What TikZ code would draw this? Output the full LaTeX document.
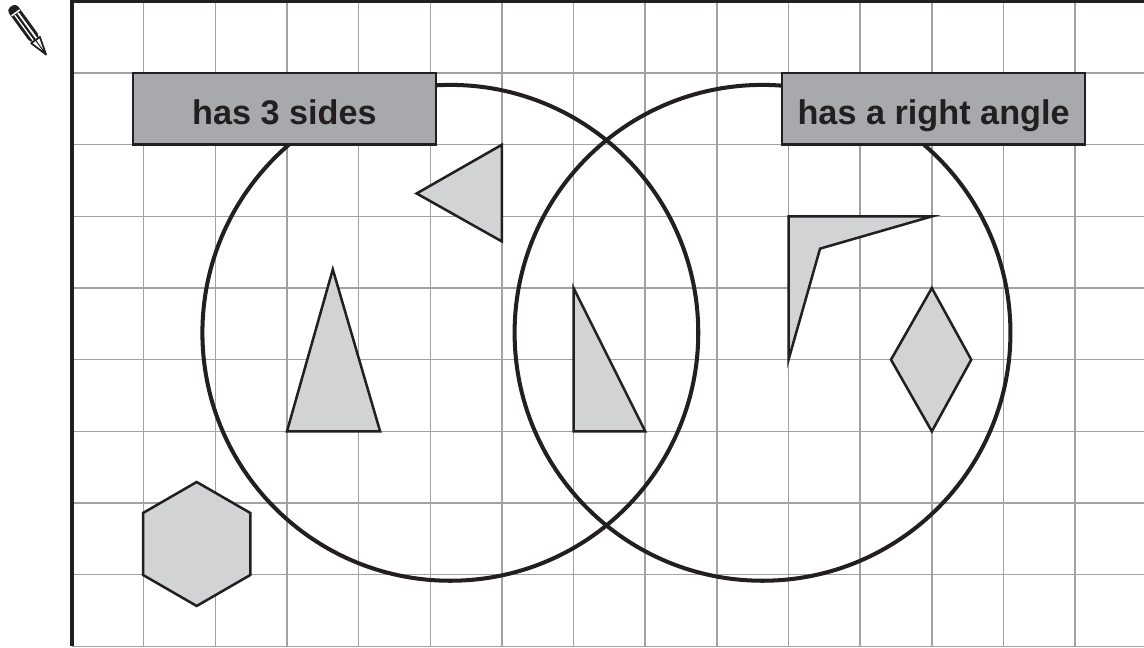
\documentclass[tikz,border=0pt]{standalone}
\usepackage{fontspec}
\setmainfont{Liberation Sans}
\definecolor{ink}{HTML}{231F20}
\definecolor{gridgray}{HTML}{A0A2A5}
\definecolor{boxgray}{HTML}{A7A9AC}
\definecolor{shapegray}{HTML}{D1D3D4}
\tikzset{
  gridline/.style={draw=gridgray, line width=0.6pt},
  frameline/.style={draw=ink, line width=1.5pt},
  setcircle/.style={draw=ink, line width=1.6pt},
  shapefill/.style={draw=ink, fill=shapegray, line width=1pt, line join=miter},
  labelbox/.style={draw=ink, fill=boxgray, line width=1pt, minimum width=4.23cm, minimum height=1cm,
    inner sep=0pt, text height=0.43cm, text depth=0pt,
    font=\fontsize{13.6}{16}\selectfont\bfseries, text=ink}
}
\begin{document}
\begin{tikzpicture}
\useasboundingbox (-1.005,-0.01) rectangle (14.961,9.02);
% grid
\foreach \x in {1,...,15} \draw[gridline] (\x,0) -- (\x,9);
\foreach \y in {0,...,8} \draw[gridline] (0,\y) -- (15,\y);
% frame
\draw[frameline] (0,0) -- (0,9) -- (15,9);
% circles
\draw[setcircle] (5.28,4.375) circle (3.46);
\draw[setcircle] (9.637,4.375) circle (3.46);
% labels
\node[labelbox] (lbl1) at (2.965,7.5) {has 3 sides};
\node[labelbox] (lbl2) at (12.025,7.5) {has a right angle};
% shapes
\draw[shapefill] (3.0,3) -- (4.3,3) -- (3.64,5.26) -- cycle;
\draw[shapefill] (6,7) -- (6,5.65) -- (4.81,6.32) -- cycle;
\draw[shapefill] (7,5) -- (7,3) -- (8,3) -- cycle;
\draw[shapefill] (10,6) -- (12,6) -- (10.44,5.55) -- (10,4) -- cycle;
\draw[shapefill] (12,5) -- (12.55,4) -- (12,3) -- (11.43,4) -- cycle;
\draw[shapefill] (1.74,1.428) ++(90:0.865) -- ++(210:0.865) -- ++(270:0.865) -- ++(330:0.865) -- ++(30:0.865) -- ++(90:0.865) -- cycle;
% pencil
\begin{scope}[shift={(-0.85,8.93)}, rotate=-54]
  \fill[ink, rounded corners=0.06cm] (0,-0.08) rectangle (0.58,0.08);
  \draw[white, line width=0.7pt] (0.13,0.025) -- (0.58,0.025);
  \draw[white, line width=0.5pt] (0.13,-0.03) -- (0.58,-0.03);
  \draw[white, line width=0.6pt] (0.11,-0.07) -- (0.11,0.07);
  \filldraw[fill=white, draw=ink, line width=0.7pt, line join=round] (0.58,0.075) -- (0.83,0) -- (0.58,-0.075) -- cycle;
  \fill[ink] (0.75,0.025) -- (0.83,0) -- (0.75,-0.025) -- cycle;
  \draw[ink, line width=0.4pt] (0.58,0) -- (0.76,0);
\end{scope}
\end{tikzpicture}
\end{document}
